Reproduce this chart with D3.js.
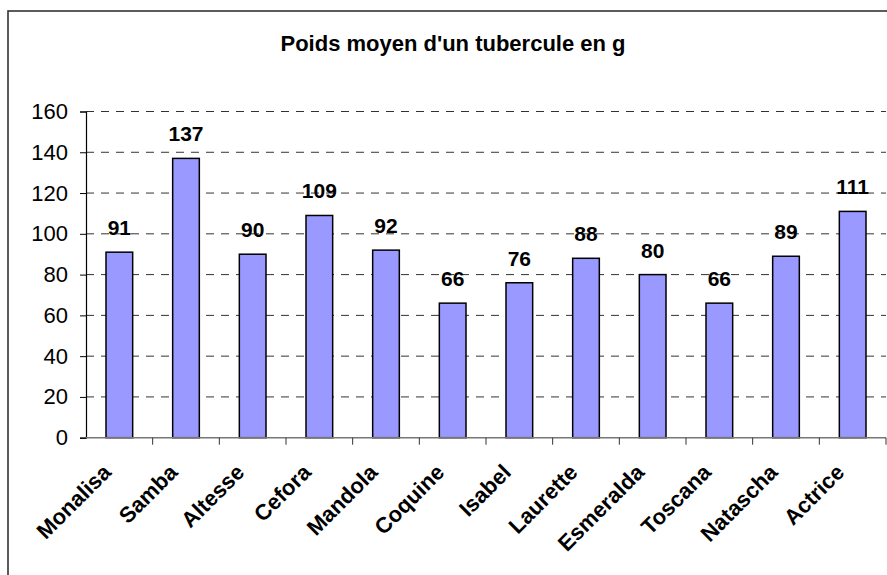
<!DOCTYPE html>
<html>
<head>
<meta charset="utf-8">
<script src="https://cdn.jsdelivr.net/npm/d3@7"></script>
<style>
  body { margin: 0; background: #fff; }
  svg { display: block; font-family: "Liberation Sans", Arial, sans-serif; }
</style>
</head>
<body>
<svg id="chart" width="887" height="575"></svg>
<script>
// data
const varieties = ["Monalisa", "Samba", "Altesse", "Cefora", "Mandola", "Coquine",
                   "Isabel", "Laurette", "Esmeralda", "Toscana", "Natascha", "Actrice"];
const weights = [91, 137, 90, 109, 92, 66, 76, 88, 80, 66, 89, 111];
const yTicks = [0, 20, 40, 60, 80, 100, 120, 140, 160];
const chartTitle = "Poids moyen d'un tubercule en g";

const svg = d3.select("#chart");
const W = 887, H = 575;

// plot area
const plotLeft = 86, plotRight = 886, plotTop = 111.5, plotBottom = 437.7;

const x = d3.scaleBand().domain(varieties).range([plotLeft, plotRight]);
const y = d3.scaleLinear().domain([0, 160]).range([plotBottom, plotTop]);

// outer chart border (runs off the right/bottom of the picture)
svg.append("rect")
    .attr("x", 8).attr("y", 11)
    .attr("width", W).attr("height", H)
    .attr("fill", "none")
    .attr("stroke", "#333")
    .attr("stroke-width", 1.6);

// title
svg.append("text")
    .attr("x", 453).attr("y", 51)
    .attr("text-anchor", "middle")
    .attr("font-size", "22px")
    .attr("font-weight", "bold")
    .text(chartTitle);

// dashed gridlines
svg.append("g")
  .selectAll("line")
  .data(yTicks.filter(d => d > 0))
  .enter().append("line")
    .attr("x1", plotLeft).attr("x2", plotRight)
    .attr("y1", d => y(d)).attr("y2", d => y(d))
    .attr("stroke", "#333")
    .attr("stroke-width", 1)
    .attr("stroke-dasharray", "8,7");

// bars
svg.append("g")
  .selectAll("rect")
  .data(varieties)
  .enter().append("rect")
    .attr("x", d => x(d) + x.bandwidth() * 0.3)
    .attr("y", (d, i) => y(weights[i]))
    .attr("width", x.bandwidth() * 0.4)
    .attr("height", (d, i) => plotBottom - y(weights[i]))
    .attr("fill", "#9999ff")
    .attr("stroke", "#000")
    .attr("stroke-width", 1.5);

// value labels
svg.append("g")
  .selectAll("text")
  .data(varieties)
  .enter().append("text")
    .attr("x", d => x(d) + x.bandwidth() / 2)
    .attr("y", (d, i) => y(weights[i]) - 17)
    .attr("text-anchor", "middle")
    .attr("font-size", "21px")
    .attr("font-weight", "bold")
    .text((d, i) => weights[i]);

// y axis
const yAxis = d3.axisLeft(y).tickValues(yTicks).tickSize(6).tickPadding(12);
const gy = svg.append("g")
    .attr("transform", `translate(${plotLeft},0)`)
    .call(yAxis);
gy.select(".domain").attr("stroke", "#000").attr("stroke-width", 1.2);
gy.selectAll(".tick line").attr("stroke", "#000");
gy.selectAll(".tick text")
    .attr("font-size", "22px")
    .attr("font-family", "Liberation Sans, Arial, sans-serif")
    .attr("fill", "#000");

// x axis: ticks between categories
const gx = svg.append("g");
gx.append("line")
    .attr("x1", plotLeft).attr("x2", plotRight)
    .attr("y1", plotBottom).attr("y2", plotBottom)
    .attr("stroke", "#777")
    .attr("stroke-width", 1.5);
gx.selectAll("line.tick")
  .data(varieties)
  .enter().append("line")
    .attr("class", "tick")
    .attr("x1", d => x(d) + x.bandwidth()).attr("x2", d => x(d) + x.bandwidth())
    .attr("y1", plotBottom).attr("y2", plotBottom + 7)
    .attr("stroke", "#333");

// rotated category labels
gx.selectAll("text")
  .data(varieties)
  .enter().append("text")
    .attr("transform", d => `translate(${x(d) + x.bandwidth() / 2 - 7},${plotBottom + 36}) rotate(-45)`)
    .attr("text-anchor", "end")
    .attr("font-size", "22px")
    .attr("font-weight", "bold")
    .text(d => d);
</script>
</body>
</html>
